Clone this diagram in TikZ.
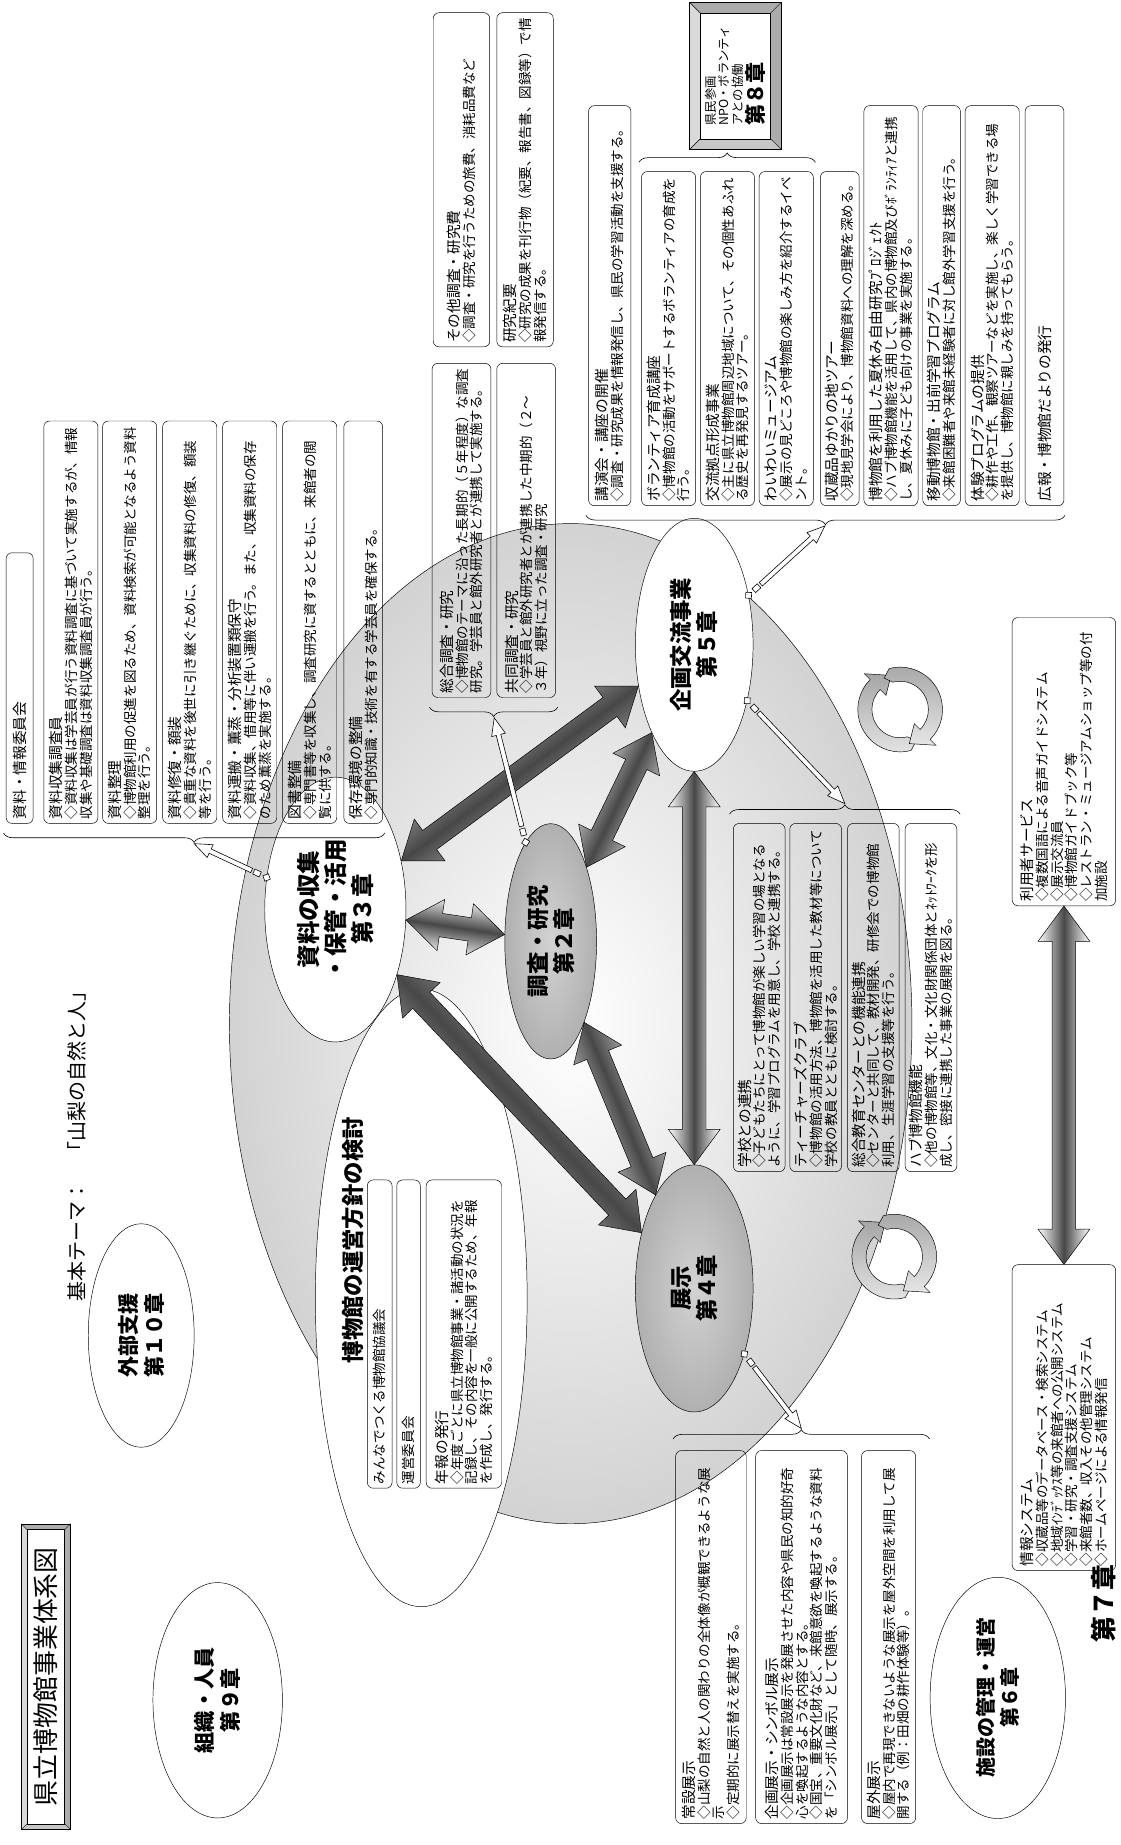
\documentclass[tikz,border=0pt]{standalone}
\usepackage{fontspec}
\setmainfont{Noto Sans CJK JP}
\usetikzlibrary{shapes.geometric,decorations.pathreplacing,calc,arrows.meta}

\newcommand\bodysize{\fontsize{11.5}{12.5}\selectfont}
\newcommand\headsize{\fontsize{12.5}{14}\selectfont}
\newcommand\hd[1]{{\headsize #1}}

% fat double arrow between two nodes, shaded along its length
\newcommand\fatarrow[2]{%
  \path (#1) -- (#2) coordinate[pos=0] (fa1) coordinate[pos=1] (fa2);
  \pgfmathanglebetweenpoints{\pgfpointanchor{fa1}{center}}{\pgfpointanchor{fa2}{center}}%
  \let\faang\pgfmathresult
  \path[fat, shading angle=\faang] (fa1)
    -- ($(fa1)!30pt!(fa2)!22pt!90:(fa2)$) -- ($(fa1)!30pt!(fa2)!10pt!90:(fa2)$)
    -- ($(fa2)!30pt!(fa1)!10pt!-90:(fa1)$) -- ($(fa2)!30pt!(fa1)!22pt!-90:(fa1)$)
    -- (fa2)
    -- ($(fa2)!30pt!(fa1)!22pt!90:(fa1)$) -- ($(fa2)!30pt!(fa1)!10pt!90:(fa1)$)
    -- ($(fa1)!30pt!(fa2)!10pt!-90:(fa2)$) -- ($(fa1)!30pt!(fa2)!22pt!-90:(fa2)$)
    -- cycle;
}
% thin open arrow from an oval to the tip of a brace
\newcommand\linkarrow[2]{%
  \path (#1) -- (#2) coordinate[pos=0] (la1) coordinate[pos=1] (la2);
  \path[link] ($(la1)!3.5pt!(la2)$) -- ($(la1)!3.5pt!90:(la2)$)
    -- ($(la1)!-3.5pt!(la2)$) -- ($(la1)!3.5pt!-90:(la2)$) -- cycle;
  \path[link] ($(la1)!6pt!(la2)!2.3pt!90:(la2)$) -- ($(la1)!12pt!(la2)!2.3pt!90:(la2)$)
    -- ($(la1)!12pt!(la2)!2.3pt!-90:(la2)$) -- ($(la1)!6pt!(la2)!2.3pt!-90:(la2)$) -- cycle;
  \path[link] ($(la1)!14pt!(la2)!2pt!90:(la2)$) -- ($(la2)!15pt!(la1)!2pt!-90:(la1)$)
    -- ($(la2)!15pt!(la1)!6pt!-90:(la1)$) -- (la2) -- ($(la2)!15pt!(la1)!6pt!90:(la1)$)
    -- ($(la2)!15pt!(la1)!2pt!90:(la1)$) -- ($(la1)!14pt!(la2)!2pt!-90:(la2)$) -- cycle;
}
% picture frame with a bevelled edge
\newcommand\bevel[5]{%
  \filldraw[fill=gray!65] (#1,#2) rectangle (#3,#4);
  \fill[gray!30] (#1,#2) -- (#3,#2) -- (#3-#5,#2-#5) -- (#1+#5,#2-#5) -- cycle;
  \fill[gray!45] (#1,#2) -- (#1+#5,#2-#5) -- (#1+#5,#4+#5) -- (#1,#4) -- cycle;
  \draw (#1,#2) rectangle (#3,#4);
  \draw (#1,#2) -- (#1+#5,#2-#5) (#3,#2) -- (#3-#5,#2-#5)
        (#3,#4) -- (#3-#5,#4+#5) (#1,#4) -- (#1+#5,#4+#5);
}

\begin{document}
\begin{tikzpicture}[x=1pt, y=1pt,
  box/.style={draw, rounded corners=5pt, align=left, anchor=north west, inner sep=3.5pt, font=\bodysize},
  oval/.style={draw, ellipse, fill=white, align=center, inner sep=0pt},
  grayoval/.style={oval, inner color=gray!35, outer color=gray!62},
  fat/.style={draw, line width=0.4pt, left color=white, right color=white, middle color=black!72},
  link/.style={draw, fill=white, line width=0.5pt},
  curly/.style={draw, decorate, decoration={brace, amplitude=8pt}, line width=0.5pt},
  swirlarm/.style={draw, line width=0.4pt, left color=gray!20, right color=gray!70},
  ovaltext/.style={font=\fontsize{19}{22}\selectfont\bfseries}
]
\path[fill=white, use as bounding box] (0,0) rectangle (952,1568);
\begin{scope}[transform canvas={rotate=90}]
% whole museum
\node[oval, inner color=white, outer color=gray!35, minimum width=850, minimum height=580] (museum) at (698,-485) {};

% title and theme
\bevel{13}{-18}{273}{-60}{5}
\node[draw, fill=white, minimum width=250, minimum height=32, inner sep=0pt, font=\fontsize{22}{24}\selectfont] (title) at (143,-39) {県立博物館事業体系図};
\node[anchor=west, font=\fontsize{17}{20}\selectfont] (theme) at (458,-65) {基本テーマ：\quad「山梨の自然と人」};

% outer ovals
\node[oval, ovaltext, minimum width=190, minimum height=90, font=\fontsize{18}{22}\selectfont\bfseries] (gaibu) at (433,-120) {外部支援\\第１０章};
\node[oval, ovaltext, minimum width=200, minimum height=110, font=\fontsize{18}{22}\selectfont\bfseries] (soshiki) at (123,-185) {組織・人員\\第９章};
\node[oval, ovaltext, minimum width=205, minimum height=115, font=\fontsize{17}{21}\selectfont\bfseries] (shisetsu) at (125,-848) {施設の管理・運営\\第６章};

% management
\node[oval, minimum width=525, minimum height=180] (unei) at (465,-358) {};
\node[ovaltext] (unei-title) at (514,-300) {博物館の運営方針の検討};
\node[box, text width=255, minimum height=21] (kyogikai) at (303,-312) {みんなでつくる博物館協議会};
\node[box, text width=255, minimum height=20] (iinkai2) at (303,-337) {運営委員会};
\node[box, text width=255, minimum height=64] (nenpo) at (303,-362) {\hd{年報の発行}\\◇年度ごとに県立博物館事業・諸活動の状況を\\記録し、その内容を一般に公開するため、年報\\を作成し、発行する。};

% core ovals
\node[oval, minimum width=225, minimum height=120, font=\fontsize{20}{23}\selectfont\bfseries] (siryo) at (795,-285) {資料の収集\\・保管・活用\\第３章};
\node[grayoval, ovaltext, minimum width=200, minimum height=78] (chosa) at (768,-468) {調査・研究\\第２章};
\node[oval, ovaltext, minimum width=215, minimum height=100] (kikaku) at (1020,-590) {企画交流事業\\第５章};
\node[grayoval, ovaltext, minimum width=210, minimum height=100] (tenji) at (473,-590) {展示\\第４章};

\fatarrow{siryo}{chosa}
\fatarrow{siryo}{kikaku}
\fatarrow{siryo}{tenji}
\fatarrow{chosa}{kikaku}
\fatarrow{chosa}{tenji}
\fatarrow{kikaku}{tenji}

% circulation marks
\coordinate (swirl1) at (965,-765);
\coordinate (swirl2) at (500,-760);
\foreach \c in {swirl1,swirl2} {
  \foreach \r in {0,180} {
    \path[swirlarm, shift={(\c)}, rotate=\r] (207:30) -- (195:36)
      arc[start angle=195, end angle=45, radius=36] -- (45:43) -- (15:30) -- (45:17) -- (45:24)
      arc[start angle=45, end angle=195, radius=24] -- cycle;
  }
}

% collection
\node[box, text width=223, minimum height=23] (iinkai) at (868,-5) {\hd{資料・情報委員会}};
\node[box, text width=335, minimum height=46] (chosain) at (868,-37) {\hd{資料収集調査員}\\◇資料収集は学芸員が行う資料調査に基づいて実施するが、情報\\収集や基礎調査は資料収集調査員が行う。};
\node[box, text width=335, minimum height=46] (seiri) at (868,-87) {\hd{資料整理}\\◇博物館利用の促進を図るため、資料検索が可能となるよう資料\\整理を行う。};
\node[box, text width=335, minimum height=46] (shufuku) at (868,-138) {\hd{資料修復・額装}\\◇貴重な資料を後世に引き継ぐために、収集資料の修復、額装\\等を行う。};
\node[box, text width=335, minimum height=46] (unpan) at (868,-189) {\hd{資料運搬・薫蒸・分析装置類保守}\\◇資料収集、借用等に伴い運搬を行う。また、収集資料の保存\\のため薫蒸を実施する。};
\node[box, text width=335, minimum height=46] (tosho) at (868,-240) {\hd{図書整備}\\◇専門書等を収集し、調査研究に資するとともに、来館者の閲\\覧に供する。};
\node[box, text width=335, minimum height=33] (hozon) at (868,-292) {\hd{保存環境の整備}\\◇専門的知識・技術を有する学芸員を確保する。};
\draw[curly] (860,-327) -- (860,-3);
\coordinate (siryo-tip) at (851,-165);
\linkarrow{siryo}{siryo-tip}

% research
\node[box, text width=277, minimum height=50] (sogo) at (975,-367) {\hd{総合調査・研究}\\◇博物館のテーマに沿った長期的（５年程度）な調査\\研究。学芸員と館外研究者とが連携して実施する。};
\node[box, text width=277, minimum height=50] (kyodo) at (975,-422) {\hd{共同調査・研究}\\◇学芸員と館外研究者とが連携した中期的（２～\\３年）視野に立った調査・研究};
\node[box, text width=277, minimum height=48] (sonota) at (1273,-368) {\hd{その他調査・研究費}\\◇調査・研究を行うための旅費、消耗品費など};
\node[box, text width=277, minimum height=48] (kiyo) at (1273,-422) {\hd{研究紀要}\\◇研究の成果を刊行物（紀要、報告書、図録等）で情\\報発信する。};
\draw[curly] (967,-474) -- (967,-365);
\coordinate (chosa-tip) at (958,-420);
\linkarrow{chosa}{chosa-tip}

% exchange
\node[box, text width=333, minimum height=36] (koen) at (1138,-500) {\hd{講演会・講座の開催}\\◇調査・研究成果を情報発信し、県民の学習活動を支援する。};
\node[box, text width=277, minimum height=46] (vol) at (1138,-545) {\hd{ボランティア育成講座}\\◇博物館の活動をサポートするボランティアの育成を\\行う。};
\node[box, text width=277, minimum height=46] (koryu) at (1138,-595) {\hd{交流拠点形成事業}\\◇主に県立博物館周辺地域について、その個性あふれ\\る歴史を再発見するツアー。};
\node[box, text width=277, minimum height=46] (waiwai) at (1138,-645) {\hd{わいわいミュージアム}\\◇展示の見どころや博物館の楽しみ方を紹介するイベ\\ント。};
\node[box, text width=277, minimum height=33] (yukari) at (1138,-697) {\hd{収蔵品ゆかりの地ツアー}\\◇現地見学会により、博物館資料への理解を深める。};
\node[box, text width=333, minimum height=46] (natsu) at (1138,-734) {\hd{博物館を利用した夏休み自由研究ﾌﾟﾛｼﾞｪｸﾄ}\\◇ハブ博物館機能を活用して、県内の博物館及びﾎﾞﾗﾝﾃｨｱと連携\\し、夏休みに子ども向けの事業を実施する。};
\node[box, text width=333, minimum height=32] (ido) at (1138,-784) {\hd{移動博物館・出前学習プログラム}\\◇来館困難者や来館未経験者に対し館外学習支援を行う。};
\node[box, text width=333, minimum height=46] (taiken) at (1138,-820) {\hd{体験プログラムの提供}\\◇耕作や工作、観察ツアーなどを実施し、楽しく学習できる場\\を提供し、博物館に親しみを持ってもらう。};
\node[box, text width=333, minimum height=33] (koho) at (1138,-871) {\hd{広報・博物館だよりの発行}};
\draw[curly] (1130,-905) -- (1130,-498);
\coordinate (kikaku-tip) at (1121,-701);
\linkarrow{kikaku}{kikaku-tip}
\draw[curly] (1430,-543) -- (1430,-693);
\bevel{1441}{-586}{1566}{-664}{9}
\node[draw, fill=white, minimum width=107, minimum height=60, inner sep=0pt, align=left, font=\fontsize{10.5}{11.5}\selectfont] (ch8) at (1503.5,-625) {県民参画\\NPO・ボランティ\\アとの協働\\[1pt]{\fontsize{18}{20}\selectfont\bfseries 第８章}};

% schools
\node[box, text width=289, minimum height=44] (gakko) at (572,-623) {\hd{学校との連携}\\◇子どもたちにとって博物館が楽しい学習の場となる\\ように、学習プログラムを用意し、学校と連携する。};
\node[box, text width=289, minimum height=44] (teacher) at (572,-671) {\hd{ティーチャーズクラブ}\\◇博物館の活用方法、博物館を活用した教材等について\\学校の教員とともに検討する。};
\node[box, text width=289, minimum height=44] (center) at (572,-720) {\hd{総合教育センターとの機能連携}\\◇センターと共同して、教材開発、研修会での博物館\\利用、生涯学習の支援等を行う。};
\node[box, text width=289, minimum height=44] (hub) at (572,-769) {\hd{ハブ博物館機能}\\◇他の博物館等、文化・文化財関係団体とﾈｯﾄﾜｰｸを形\\成し、密接に連携した事業の展開を図る。};
\draw[curly] (876,-620) -- (876,-816);
\coordinate (school-tip) at (885,-718);
\linkarrow{kikaku}{school-tip}

% exhibition
\node[box, text width=310, minimum height=60] (josetsu) at (18,-574) {\hd{常設展示}\\◇山梨の自然と人の関わりの全体像が概観できるような展\\示\\◇定期的に展示替えを実施する。};
\node[box, text width=310, minimum height=78] (kikakuten) at (18,-642) {\hd{企画展示・シンボル展示}\\◇企画展示は常設展示を発展させた内容や県民の知的好奇\\心を喚起するような内容とする。\\◇国宝、重要文化財など、来館意欲を喚起するような資料\\を「シンボル展示」として随時、展示する。};
\node[box, text width=310, minimum height=46] (okugai) at (18,-732) {\hd{屋外展示}\\◇屋内で再現できないような展示を屋外空間を利用して展\\開する（例：田畑の耕作体験等）。};
\draw[curly] (345,-572) -- (345,-790);
\coordinate (tenji-tip) at (354,-681);
\linkarrow{tenji}{tenji-tip}

% information and services
\node[box, text width=253, minimum height=88] (info) at (233,-860) {\hd{情報システム}\\◇収蔵品等のデータベース・検索システム\\◇地域ｲﾝﾃﾞｯｸｽ等の来館者への公開システム\\◇学習・研究・調査支援システム\\◇来館者数、収入その他管理システム\\◇ホームページによる情報発信};
\node[box, text width=238, minimum height=88] (user) at (798,-860) {\hd{利用者サービス}\\◇複数国語による音声ガイドシステム\\◇展示交流員\\◇博物館ガイドブック等\\◇レストラン・ミュージアムショップ等の付\\加施設};
\fatarrow{info}{user}
\node[font=\fontsize{22}{24}\selectfont\bfseries] (ch7) at (205,-938) {第７章};
\end{scope}
\end{tikzpicture}
\end{document}
